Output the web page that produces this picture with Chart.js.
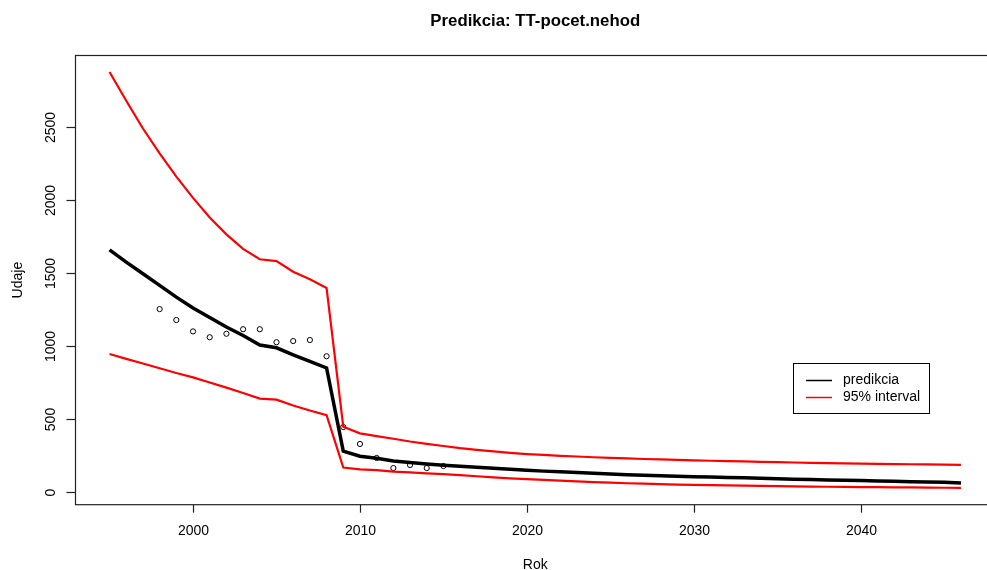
<!DOCTYPE html>
<html>
<head>
<meta charset="utf-8">
<title>Predikcia: TT-pocet.nehod</title>
<script src="https://cdn.jsdelivr.net/npm/chart.js@4.4.1/dist/chart.umd.min.js"></script>
<style>
    html, body { margin: 0; padding: 0; background: #fff; overflow: hidden; }
    #wrap { width: 987px; height: 570px; overflow: hidden; }
    canvas { display: block; }
</style>
</head>
<body>
<div id="wrap"><canvas id="graf" width="1000" height="570"></canvas></div>
<script>
// roky predikcie
const roky = [1995, 1996, 1997, 1998, 1999, 2000, 2001, 2002, 2003, 2004, 2005, 2006, 2007,
    2008, 2009, 2010, 2011, 2012, 2013, 2014, 2015, 2016, 2017, 2018, 2019, 2020, 2021,
    2022, 2023, 2024, 2025, 2026, 2027, 2028, 2029, 2030, 2031, 2032, 2033, 2034, 2035,
    2036, 2037, 2038, 2039, 2040, 2041, 2042, 2043, 2044, 2045, 2046];

// predikcia (cierna ciara)
const predikcia = [1658, 1575, 1495, 1415, 1335, 1260, 1195, 1130, 1072, 1007, 988, 940, 895,
    850, 280, 245, 231, 213, 202, 192, 184, 176, 169, 162, 155, 149, 143,
    138, 133, 128, 123, 119, 115, 111, 108, 105, 102, 99, 97, 94, 91,
    88, 85, 83, 80, 78, 75, 73, 70, 68, 66, 62];

// 95% interval - horna a dolna hranica
const horna = [2877, 2680, 2490, 2320, 2160, 2015, 1880, 1765, 1665, 1594, 1582, 1509, 1457,
    1397, 447, 402, 383, 365, 346, 330, 315, 300, 288, 278, 268, 260, 254,
    248, 243, 238, 234, 230, 226, 223, 220, 217, 214, 212, 210, 207, 204,
    202, 200, 198, 196, 195, 193, 191, 190, 189, 187, 186];

const dolna = [945, 912, 880, 848, 815, 785, 750, 715, 678, 640, 633, 592, 558,
    527, 168, 155, 150, 140, 134, 128, 122, 115, 108, 100, 93, 88, 83,
    78, 73, 68, 64, 60, 57, 54, 51, 49, 47, 45, 44, 42, 40,
    38, 37, 36, 35, 34, 33, 32, 31, 30, 29, 28];

// skutocne udaje (kruzky)
const rokyUdaje = [1998, 1999, 2000, 2001, 2002, 2003, 2004, 2005, 2006, 2007, 2008,
    2009, 2010, 2011, 2012, 2013, 2014, 2015];
const udaje = [1253, 1178, 1100, 1060, 1084, 1115, 1115, 1026, 1034, 1041, 930,
    445, 329, 233, 164, 185, 164, 178];

// popisy osi
const xTicks = [2000, 2010, 2020, 2030, 2040];
const yTicks = [0, 500, 1000, 1500, 2000, 2500];

const FONT = '"Liberation Sans", Arial, sans-serif';

function body(xs, ys) {
    return xs.map((x, i) => ({ x: x, y: ys[i] }));
}

// kreslenie v style R: ramik, osi, titulky, legenda
const rStyl = {
    id: 'rStyl',
    afterDraw(chart) {
        const ctx = chart.ctx;
        const a = chart.chartArea;
        const sx = chart.scales.x;
        const sy = chart.scales.y;
        ctx.save();

        // ramik
        ctx.strokeStyle = '#222';
        ctx.lineWidth = 1.2;
        ctx.strokeRect(a.left, a.top, a.right - a.left, a.bottom - a.top);

        ctx.fillStyle = '#000';
        ctx.font = '14px ' + FONT;

        // os x
        ctx.textAlign = 'center';
        ctx.textBaseline = 'middle';
        xTicks.forEach(t => {
            const px = Math.round(sx.getPixelForValue(t)) + 0.5;
            ctx.beginPath();
            ctx.moveTo(px, a.bottom);
            ctx.lineTo(px, a.bottom + 8);
            ctx.stroke();
            ctx.fillText(String(t), px, 531);
        });

        // os y (otocene popisy)
        yTicks.forEach(t => {
            const py = Math.round(sy.getPixelForValue(t)) + 0.5;
            ctx.beginPath();
            ctx.moveTo(a.left, py);
            ctx.lineTo(a.left - 9, py);
            ctx.stroke();
            ctx.save();
            ctx.translate(51, py);
            ctx.rotate(-Math.PI / 2);
            ctx.fillText(String(t), 0, 0);
            ctx.restore();
        });

        // nazvy osi
        const stredX = (a.left + a.right) / 2;
        ctx.fillText('Rok', stredX, 565);
        ctx.save();
        ctx.translate(18, (a.top + a.bottom) / 2);
        ctx.rotate(-Math.PI / 2);
        ctx.fillText('Udaje', 0, 0);
        ctx.restore();

        // titulok
        ctx.font = 'bold 16.8px ' + FONT;
        ctx.fillText('Predikcia: TT-pocet.nehod', stredX, 21.5);

        // legenda
        ctx.lineWidth = 1;
        ctx.strokeStyle = '#000';
        ctx.strokeRect(793.5, 363.5, 136, 50);
        ctx.font = '14px ' + FONT;
        ctx.textAlign = 'left';
        const polozky = [['predikcia', '#000', 380.5], ['95% interval', '#ff0000', 397.5]];
        polozky.forEach(([txt, farba, y]) => {
            ctx.strokeStyle = farba;
            ctx.lineWidth = 1.5;
            ctx.beginPath();
            ctx.moveTo(806, y);
            ctx.lineTo(832, y);
            ctx.stroke();
            ctx.fillStyle = '#000';
            ctx.fillText(txt, 843, y);
        });

        ctx.restore();
    }
};

const graf = new Chart(document.getElementById('graf'), {
    type: 'line',
    data: {
        datasets: [
            {
                label: 'predikcia',
                data: body(roky, predikcia),
                borderColor: '#000',
                borderWidth: 3.5,
                pointRadius: 0,
                tension: 0
            },
            {
                label: '95% interval',
                data: body(roky, horna),
                borderColor: '#ff0000',
                borderWidth: 2.2,
                pointRadius: 0,
                tension: 0
            },
            {
                label: '95% interval dolna',
                data: body(roky, dolna),
                borderColor: '#ff0000',
                borderWidth: 2.2,
                pointRadius: 0,
                tension: 0
            },
            {
                label: 'udaje',
                data: body(rokyUdaje, udaje),
                showLine: false,
                pointRadius: 2.6,
                pointBorderWidth: 1,
                pointBorderColor: '#000',
                pointBackgroundColor: 'rgba(0,0,0,0)'
            }
        ]
    },
    options: {
        responsive: false,
        animation: false,
        devicePixelRatio: 1,
        layout: { padding: { left: 75.5, top: 55.5, right: 1.5, bottom: 65.3 } },
        plugins: {
            legend: { display: false },
            title: { display: false },
            tooltip: { enabled: false }
        },
        scales: {
            x: { type: 'linear', min: 1992.96, max: 2048.04, display: false },
            y: { type: 'linear', min: -87, max: 2990, display: false }
        }
    },
    plugins: [rStyl]
});
</script>
</body>
</html>
